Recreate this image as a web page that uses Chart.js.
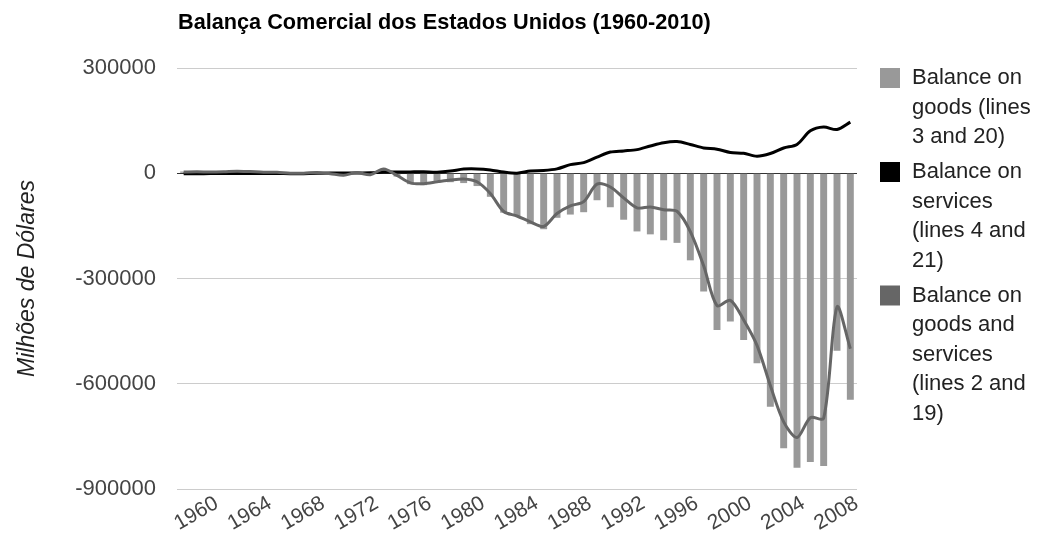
<!DOCTYPE html>
<html>
<head>
<meta charset="utf-8">
<script src="https://cdn.jsdelivr.net/npm/chart.js@4.4.1/dist/chart.umd.min.js"></script>
<style>
  html, body { margin: 0; padding: 0; background: #ffffff; }
  #wrap { position: relative; width: 1040px; height: 543px; }
</style>
</head>
<body>
<div id="wrap"><canvas id="c" width="1040" height="543"></canvas></div>
<script>
const chartTitle = "Balança Comercial dos Estados Unidos (1960-2010)";
const yAxisTitle = "Milhões de Dólares";

const years = [1960,1961,1962,1963,1964,1965,1966,1967,1968,1969,
  1970,1971,1972,1973,1974,1975,1976,1977,1978,1979,
  1980,1981,1982,1983,1984,1985,1986,1987,1988,1989,
  1990,1991,1992,1993,1994,1995,1996,1997,1998,1999,
  2000,2001,2002,2003,2004,2005,2006,2007,2008,2009,2010];

const yTicks = [300000, 0, -300000, -600000, -900000];

const balanceGoods = [4892,5571,4521,5224,6801,4951,3817,3800,635,607,
  2603,-2260,-6416,911,-5505,8903,-9483,-31091,-33927,-27568,
  -25500,-28023,-36485,-67102,-112492,-122173,-145081,-159557,-126959,-117749,
  -111037,-76937,-96897,-132451,-165831,-174170,-191000,-198428,-248221,-337068,
  -446783,-422370,-475245,-541643,-665390,-783804,-839496,-823192,-834652,-505910,-645857];

const balanceServices = [-1385,-1229,-1042,-1009,-810,-525,-747,-785,-1170,-1207,
  -349,957,973,989,1213,3501,3401,3845,4164,3003,
  6093,11852,12329,9335,3319,295,6543,7874,12404,24560,
  30173,45802,60396,63711,67335,77786,87010,90155,82081,72180,
  68627,59104,56944,48602,56343,72049,82096,120925,131767,124599,145840];

const balanceGoodsServices = [3508,4195,3370,4210,6022,4664,2939,2604,250,91,
  2254,-1302,-5443,1900,-4292,12404,-6082,-27246,-29763,-24565,
  -19407,-16172,-24156,-57767,-109073,-121880,-138538,-151684,-114566,-93141,
  -80864,-31135,-39212,-70311,-98493,-96384,-104065,-108273,-166140,-263755,
  -377337,-362339,-418165,-490545,-605026,-708624,-753288,-696728,-698338,-381272,-500027];

const legendLines = [
  ["Balance on", "goods (lines", "3 and 20)"],
  ["Balance on", "services", "(lines 4 and", "21)"],
  ["Balance on", "goods and", "services", "(lines 2 and", "19)"]
];

const colGoods = "#999999";
const colServices = "#000000";
const colGS = "#666666";
const FONT = '"Liberation Sans", Arial, sans-serif';

const customDraw = {
  id: 'customDraw',
  afterDraw(chart) {
    const ctx = chart.ctx;
    ctx.save();
    // title
    ctx.fillStyle = '#000000';
    ctx.font = 'bold 21.7px ' + FONT;
    ctx.textAlign = 'left';
    ctx.textBaseline = 'alphabetic';
    ctx.fillText(chartTitle, 178, 29);
    // legend
    const colors = [colGoods, colServices, colGS];
    ctx.font = '22px ' + FONT;
    ctx.textBaseline = 'middle';
    let y = 78;
    legendLines.forEach((lines, i) => {
      ctx.fillStyle = colors[i];
      ctx.fillRect(880, y - 10, 20, 20);
      ctx.fillStyle = '#222222';
      lines.forEach((t, j) => {
        ctx.fillText(t, 912, y);
        y += 29.5;
      });
      y += 5.5;
    });
    ctx.restore();
  }
};

new Chart(document.getElementById('c'), {
  data: {
    labels: years.map(String),
    datasets: [
      { type: 'line', label: legendLines[2].join(' '), data: balanceGoodsServices,
        borderColor: colGS, backgroundColor: colGS, borderWidth: 3, pointRadius: 0,
        tension: 0.3, order: 0 },
      { type: 'line', label: legendLines[1].join(' '), data: balanceServices,
        borderColor: colServices, backgroundColor: colServices, borderWidth: 3, pointRadius: 0,
        tension: 0.3, order: 1 },
      { type: 'bar', label: legendLines[0].join(' '), data: balanceGoods,
        backgroundColor: colGoods, borderWidth: 0, barPercentage: 0.52, categoryPercentage: 1.0,
        order: 2 }
    ]
  },
  options: {
    responsive: false,
    animation: false,
    events: [],
    layout: { padding: { left: 0, right: 183, top: 68, bottom: 0 } },
    plugins: {
      legend: { display: false },
      title: { display: false },
      tooltip: { enabled: false }
    },
    scales: {
      x: {
        type: 'category',
        offset: true,
        grid: { display: false, drawTicks: false },
        border: { display: false },
        ticks: {
          autoSkip: false,
          minRotation: 30,
          maxRotation: 30,
          labelOffset: 33,
          padding: 2,
          color: '#444444',
          font: { family: FONT, size: 21 },
          callback: function(value, index) {
            const yr = years[index];
            return (yr % 4 === 0) ? String(yr) : '';
          }
        },
        afterFit: function(scale) { scale.height = 54; }
      },
      y: {
        min: -900000,
        max: 300000,
        afterBuildTicks: function(scale) {
          scale.ticks = yTicks.slice().reverse().map(v => ({ value: v }));
        },
        grid: {
          drawTicks: false,
          color: function(ctx) { return (ctx.tick && ctx.tick.value === 0) ? '#333333' : '#cccccc'; },
          lineWidth: 1
        },
        border: { display: false },
        ticks: {
          padding: 21,
          color: '#444444',
          font: { family: FONT, size: 22 },
          callback: function(v) { return String(v); }
        },
        title: {
          display: true,
          text: yAxisTitle,
          color: '#222222',
          font: { family: FONT, size: 23, style: 'italic' },
          padding: { top: 14, bottom: 0 }
        },
        afterFit: function(scale) { scale.width = 177; }
      }
    }
  },
  plugins: [customDraw]
});
</script>
</body>
</html>
